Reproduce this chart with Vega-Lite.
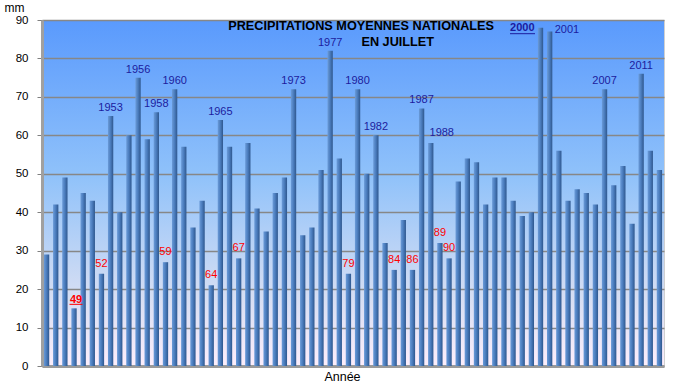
{
  "$schema": "https://vega.github.io/schema/vega-lite/v6.json",
  "width": 622,
  "height": 346,
  "autosize": {"type": "none"},
  "padding": {"left": 42, "top": 20, "right": 24, "bottom": 20},
  "background": "#ffffff",
  "title": {
    "text": ["PRECIPITATIONS MOYENNES NATIONALES", "EN JUILLET\u00a0\u00a0\u00a0\u00a0\u00a0\u00a0\u00a0\u00a0\u00a0\u00a0\u00a0\u00a0\u00a0\u00a0\u00a0\u00a0\u00a0\u200b"],
    "font": "Liberation Sans",
    "fontSize": 12.7,
    "fontWeight": "bold",
    "color": "#000000",
    "anchor": "end",
    "align": "right",
    "frame": "group",
    "dx": -170,
    "baseline": "alphabetic",
    "lineHeight": 16.5,
    "offset": -58
  },
  "data": {"values": [
    {"year": 1946, "mm": 29, "label": null, "kind": null},
    {"year": 1947, "mm": 42, "label": null, "kind": null},
    {"year": 1948, "mm": 49, "label": null, "kind": null},
    {"year": 1949, "mm": 15, "label": "49", "kind": "dry"},
    {"year": 1950, "mm": 45, "label": null, "kind": null},
    {"year": 1951, "mm": 43, "label": null, "kind": null},
    {"year": 1952, "mm": 24, "label": "52", "kind": "dry"},
    {"year": 1953, "mm": 65, "label": "1953", "kind": "wet"},
    {"year": 1954, "mm": 40, "label": null, "kind": null},
    {"year": 1955, "mm": 60, "label": null, "kind": null},
    {"year": 1956, "mm": 75, "label": "1956", "kind": "wet"},
    {"year": 1957, "mm": 59, "label": null, "kind": null},
    {"year": 1958, "mm": 66, "label": "1958", "kind": "wet"},
    {"year": 1959, "mm": 27, "label": "59", "kind": "dry"},
    {"year": 1960, "mm": 72, "label": "1960", "kind": "wet"},
    {"year": 1961, "mm": 57, "label": null, "kind": null},
    {"year": 1962, "mm": 36, "label": null, "kind": null},
    {"year": 1963, "mm": 43, "label": null, "kind": null},
    {"year": 1964, "mm": 21, "label": "64", "kind": "dry"},
    {"year": 1965, "mm": 64, "label": "1965", "kind": "wet"},
    {"year": 1966, "mm": 57, "label": null, "kind": null},
    {"year": 1967, "mm": 28, "label": "67", "kind": "dry"},
    {"year": 1968, "mm": 58, "label": null, "kind": null},
    {"year": 1969, "mm": 41, "label": null, "kind": null},
    {"year": 1970, "mm": 35, "label": null, "kind": null},
    {"year": 1971, "mm": 45, "label": null, "kind": null},
    {"year": 1972, "mm": 49, "label": null, "kind": null},
    {"year": 1973, "mm": 72, "label": "1973", "kind": "wet"},
    {"year": 1974, "mm": 34, "label": null, "kind": null},
    {"year": 1975, "mm": 36, "label": null, "kind": null},
    {"year": 1976, "mm": 51, "label": null, "kind": null},
    {"year": 1977, "mm": 82, "label": "1977", "kind": "wet"},
    {"year": 1978, "mm": 54, "label": null, "kind": null},
    {"year": 1979, "mm": 24, "label": "79", "kind": "dry"},
    {"year": 1980, "mm": 72, "label": "1980", "kind": "wet"},
    {"year": 1981, "mm": 50, "label": null, "kind": null},
    {"year": 1982, "mm": 60, "label": "1982", "kind": "wet"},
    {"year": 1983, "mm": 32, "label": null, "kind": null},
    {"year": 1984, "mm": 25, "label": "84", "kind": "dry"},
    {"year": 1985, "mm": 38, "label": null, "kind": null},
    {"year": 1986, "mm": 25, "label": "86", "kind": "dry"},
    {"year": 1987, "mm": 67, "label": "1987", "kind": "wet"},
    {"year": 1988, "mm": 58, "label": "1988", "kind": "wet"},
    {"year": 1989, "mm": 32, "label": "89", "kind": "dry"},
    {"year": 1990, "mm": 28, "label": "90", "kind": "dry"},
    {"year": 1991, "mm": 48, "label": null, "kind": null},
    {"year": 1992, "mm": 54, "label": null, "kind": null},
    {"year": 1993, "mm": 53, "label": null, "kind": null},
    {"year": 1994, "mm": 42, "label": null, "kind": null},
    {"year": 1995, "mm": 49, "label": null, "kind": null},
    {"year": 1996, "mm": 49, "label": null, "kind": null},
    {"year": 1997, "mm": 43, "label": null, "kind": null},
    {"year": 1998, "mm": 39, "label": null, "kind": null},
    {"year": 1999, "mm": 40, "label": null, "kind": null},
    {"year": 2000, "mm": 88, "label": "2000", "kind": "record"},
    {"year": 2001, "mm": 87, "label": "2001", "kind": "second"},
    {"year": 2002, "mm": 56, "label": null, "kind": null},
    {"year": 2003, "mm": 43, "label": null, "kind": null},
    {"year": 2004, "mm": 46, "label": null, "kind": null},
    {"year": 2005, "mm": 45, "label": null, "kind": null},
    {"year": 2006, "mm": 42, "label": null, "kind": null},
    {"year": 2007, "mm": 72, "label": "2007", "kind": "wet"},
    {"year": 2008, "mm": 47, "label": null, "kind": null},
    {"year": 2009, "mm": 52, "label": null, "kind": null},
    {"year": 2010, "mm": 37, "label": null, "kind": null},
    {"year": 2011, "mm": 76, "label": "2011", "kind": "wet"},
    {"year": 2012, "mm": 56, "label": null, "kind": null},
    {"year": 2013, "mm": 51, "label": null, "kind": null}
  ]},
  "encoding": {
    "x": {
      "field": "year",
      "type": "ordinal",
      "scale": {"paddingInner": 0.42, "paddingOuter": 0.21},
      "axis": {
        "labels": false,
        "ticks": false,
        "grid": false,
        "domainColor": "#9a9a9a",
        "domainWidth": 3,
        "title": "Année",
        "titleFont": "Liberation Sans",
        "titleFontSize": 12.5,
        "titleFontWeight": "normal",
        "titleColor": "#000000",
        "titlePadding": 4,
        "titleX": 300
      }
    },
    "y": {
      "field": "mm",
      "type": "quantitative",
      "scale": {"domain": [0, 90], "nice": false},
      "axis": {
        "values": [0, 10, 20, 30, 40, 50, 60, 70, 80, 90],
        "grid": true,
        "gridColor": "#878787",
        "gridWidth": 1.5,
        "domainColor": "#a0a0a0",
        "domainWidth": 3,
        "tickColor": "#808080",
        "tickSize": 5,
        "labelPadding": 9,
        "labelFont": "Liberation Sans",
        "labelFontSize": 11.5,
        "labelColor": "#000000",
        "title": "mm",
        "titleFont": "Liberation Sans",
        "titleFontSize": 12,
        "titleFontWeight": "normal",
        "titleColor": "#000000",
        "titleAngle": 0,
        "titleAlign": "left",
        "titleBaseline": "middle",
        "titleX": -38,
        "titleY": -13
      }
    }
  },
  "layer": [
    {
      "mark": {
        "type": "bar",
        "color": {
          "gradient": "linear",
          "x1": 0, "y1": 0, "x2": 1, "y2": 0,
          "stops": [
            {"offset": 0, "color": "#6b9bd8"},
            {"offset": 0.45, "color": "#4d7fc0"},
            {"offset": 1, "color": "#2e578e"}
          ]
        }
      }
    },
    {
      "transform": [{"filter": "datum.kind == 'wet' && datum.year != 1988"}],
      "mark": {"type": "text", "baseline": "alphabetic", "dy": -5, "font": "Liberation Sans", "fontSize": 11, "color": "#1c1c9e"},
      "encoding": {"text": {"field": "label"}}
    },
    {
      "transform": [{"filter": "datum.year == 1988"}],
      "mark": {"type": "text", "baseline": "alphabetic", "dy": -7, "dx": 11, "font": "Liberation Sans", "fontSize": 11, "color": "#1c1c9e"},
      "encoding": {"text": {"field": "label"}}
    },
    {
      "transform": [{"filter": "datum.kind == 'dry' && datum.year != 1949"}],
      "mark": {"type": "text", "baseline": "alphabetic", "dy": -7, "font": "Liberation Sans", "fontSize": 11, "color": "#ff0000"},
      "encoding": {"text": {"field": "label"}}
    },
    {
      "transform": [{"filter": "datum.year == 1949"}],
      "mark": {"type": "text", "baseline": "alphabetic", "dy": -5, "dx": 2, "font": "Liberation Sans", "fontSize": 11, "fontWeight": "bold", "color": "#ff0000"},
      "encoding": {"text": {"field": "label"}}
    },
    {
      "transform": [{"filter": "datum.year == 1949"}],
      "mark": {"type": "tick", "orient": "horizontal", "size": 13, "thickness": 1, "color": "#ff0000", "xOffset": 2, "yOffset": -4, "opacity": 1},
      "encoding": {}
    },
    {
      "transform": [{"filter": "datum.kind == 'record'"}],
      "mark": {"type": "text", "align": "right", "baseline": "middle", "dx": -6, "font": "Liberation Sans", "fontSize": 11, "fontWeight": "bold", "color": "#1c1c9e"},
      "encoding": {"text": {"field": "label"}}
    },
    {
      "transform": [{"filter": "datum.kind == 'record'"}],
      "mark": {"type": "tick", "orient": "horizontal", "size": 25, "thickness": 1, "color": "#1c1c9e", "xOffset": -18, "yOffset": 6, "opacity": 1},
      "encoding": {}
    },
    {
      "transform": [{"filter": "datum.kind == 'second'"}],
      "mark": {"type": "text", "align": "left", "baseline": "middle", "dx": 5, "dy": -2, "font": "Liberation Sans", "fontSize": 11, "color": "#1c1c9e"},
      "encoding": {"text": {"field": "label"}}
    }
  ],
  "config": {
    "view": {
      "stroke": "#d0d0d0",
      "fill": {
        "gradient": "linear",
        "x1": 0, "y1": 0, "x2": 0, "y2": 1,
        "stops": [
          {"offset": 0, "color": "#5a9afd"},
          {"offset": 0.45, "color": "#90c2fa"},
          {"offset": 0.8, "color": "#d6def3"},
          {"offset": 1, "color": "#fdeefb"}
        ]
      }
    }
  }
}
